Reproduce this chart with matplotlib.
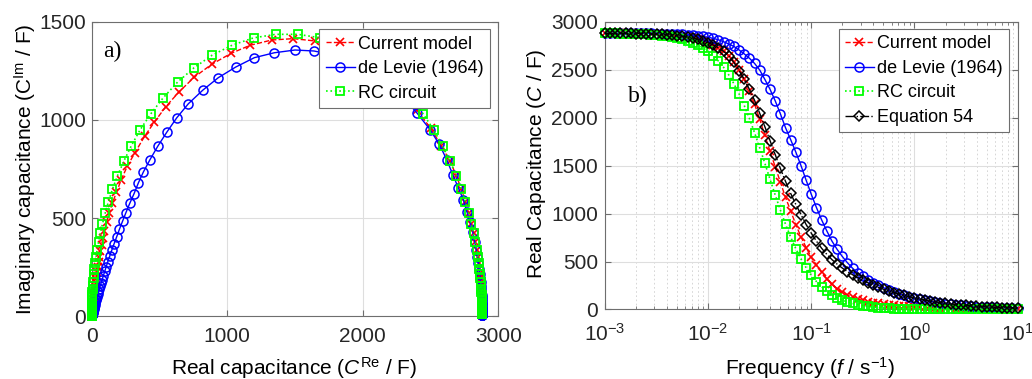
import matplotlib

matplotlib.use("Agg")
import matplotlib.pyplot as plt
from matplotlib.ticker import LogLocator, NullFormatter

plt.rcParams["font.family"] = ["Liberation Sans", "DejaVu Sans"]
plt.rcParams["mathtext.fontset"] = "custom"
plt.rcParams["mathtext.rm"] = "Liberation Sans"
plt.rcParams["mathtext.it"] = "Liberation Sans:italic"

# frequency grid, 20 points per decade from 1e-4 to 1e2 (s^-1)
freq = [
    1.000e-4, 1.122e-4, 1.259e-4, 1.413e-4, 1.585e-4, 1.778e-4, 1.995e-4, 2.239e-4, 2.512e-4, 2.818e-4,
    3.162e-4, 3.548e-4, 3.981e-4, 4.467e-4, 5.012e-4, 5.623e-4, 6.310e-4, 7.079e-4, 7.943e-4, 8.913e-4,
    1.000e-3, 1.122e-3, 1.259e-3, 1.413e-3, 1.585e-3, 1.778e-3, 1.995e-3, 2.239e-3, 2.512e-3, 2.818e-3,
    3.162e-3, 3.548e-3, 3.981e-3, 4.467e-3, 5.012e-3, 5.623e-3, 6.310e-3, 7.079e-3, 7.943e-3, 8.913e-3,
    1.000e-2, 1.122e-2, 1.259e-2, 1.413e-2, 1.585e-2, 1.778e-2, 1.995e-2, 2.239e-2, 2.512e-2, 2.818e-2,
    3.162e-2, 3.548e-2, 3.981e-2, 4.467e-2, 5.012e-2, 5.623e-2, 6.310e-2, 7.079e-2, 7.943e-2, 8.913e-2,
    1.000e-1, 1.122e-1, 1.259e-1, 1.413e-1, 1.585e-1, 1.778e-1, 1.995e-1, 2.239e-1, 2.512e-1, 2.818e-1,
    3.162e-1, 3.548e-1, 3.981e-1, 4.467e-1, 5.012e-1, 5.623e-1, 6.310e-1, 7.079e-1, 7.943e-1, 8.913e-1,
    1.000, 1.122, 1.259, 1.413, 1.585, 1.778, 1.995, 2.239, 2.512, 2.818,
    3.162, 3.548, 3.981, 4.467, 5.012, 5.623, 6.310, 7.079, 7.943, 8.913,
    1.000e1, 1.122e1, 1.259e1, 1.413e1, 1.585e1, 1.778e1, 1.995e1, 2.239e1, 2.512e1, 2.818e1,
    3.162e1, 3.548e1, 3.981e1, 4.467e1, 5.012e1, 5.623e1, 6.310e1, 7.079e1, 7.943e1, 8.913e1,
    1.000e2,
]
# the frequency panel shows 1e-3 .. 1e1
IN_RANGE = slice(20, 101)

# current model (F)
model_re = [
    2880, 2880, 2880, 2880, 2880, 2880, 2880, 2880, 2880, 2880,
    2880, 2880, 2880, 2880, 2879, 2879, 2879, 2879, 2879, 2879,
    2879, 2879, 2878, 2878, 2877, 2877, 2876, 2875, 2874, 2872,
    2870, 2867, 2864, 2860, 2855, 2848, 2840, 2830, 2817, 2801,
    2781, 2757, 2727, 2690, 2644, 2580, 2500, 2400, 2280, 2140,
    1985, 1815, 1648, 1488, 1328, 1168, 1028, 885, 757, 645,
    545, 462, 390, 318, 262, 218, 182, 152, 128, 109,
    94, 82, 72, 64, 57, 51, 46, 41, 37, 33,
    30, 27, 24, 22, 20, 18, 16, 14, 13, 12,
    11, 10, 9, 8, 7, 6, 6, 5, 5, 4,
    4, 3.6, 3.2, 2.9, 2.6, 2.4, 2.1, 1.9, 1.7, 1.5,
    1.4, 1.2, 1.1, 1.0, 0.9, 0.8, 0.7, 0.6, 0.55, 0.5,
    0.45,
]
model_im = [
    5, 6, 7, 8, 8.5, 9.5, 11, 12, 13.5, 15,
    17, 19, 21.5, 24, 27, 30, 34, 38, 43, 48,
    54, 61, 68, 77, 86, 96, 108, 121, 136, 152,
    171, 192, 215, 241, 269, 302, 338, 377, 421, 470,
    524, 583, 647, 716, 789, 868, 958, 1050, 1140, 1225,
    1295, 1355, 1403, 1415, 1408, 1381, 1340, 1284, 1219, 1144,
    1067, 989, 917, 832, 764, 696, 631, 575, 524, 478,
    436, 397, 362, 330, 300, 273, 248, 226, 206, 187,
    170, 155, 141, 128, 117, 106, 97, 88, 80, 73,
    66, 60, 55, 50, 45, 41, 37, 34, 31, 28,
    26, 23.7, 21.5, 19.6, 17.8, 16.2, 14.8, 13.4, 12.2, 11.1,
    10.1, 9.2, 8.4, 7.6, 6.9, 6.3, 5.7, 5.2, 4.8, 4.3,
    3.9,
]

# de Levie (1964)
levie_re = [
    2880, 2880, 2880, 2880, 2880, 2880, 2880, 2880, 2880, 2880,
    2880, 2880, 2880, 2880, 2880, 2880, 2880, 2880, 2880, 2880,
    2880, 2880, 2880, 2880, 2879, 2879, 2879, 2878, 2877, 2877,
    2876, 2875, 2874, 2872, 2870, 2867, 2864, 2859, 2853, 2846,
    2837, 2826, 2811, 2791, 2767, 2742, 2705, 2664, 2619, 2565,
    2496, 2398, 2295, 2175, 2040, 1895, 1770, 1640, 1500, 1347,
    1200, 1062, 934, 819, 713, 627, 553, 487, 430, 381,
    344, 312, 280, 252, 227, 204, 184, 165, 148, 133,
    119, 107, 96, 86, 77, 69, 61, 55, 49, 43,
    38, 34, 30, 27, 24, 21, 19, 17, 15, 13,
    12, 10.6, 9.3, 8.2, 7.2, 6.3, 5.6, 4.9, 4.3, 3.8,
    3.3, 2.9, 2.6, 2.3, 2.0, 1.8, 1.6, 1.4, 1.2, 1.1,
    0.9,
]
levie_im = [
    3.4, 3.8, 4.3, 4.8, 5.4, 6, 6.8, 7.6, 8.5, 9.5,
    10.7, 12, 13.5, 15, 17, 19, 21.5, 24, 27, 30,
    34, 38, 43, 48, 54, 61, 68, 77, 86, 96,
    108, 121, 136, 152, 171, 192, 215, 241, 269, 302,
    338, 377, 430, 482, 533, 593, 653, 721, 798, 875,
    951, 1037, 1118, 1190, 1250, 1300, 1333, 1352, 1357, 1343,
    1318, 1270, 1216, 1152, 1083, 1011, 937, 866, 798, 735,
    679, 624, 574, 527, 483, 442, 404, 369, 336, 306,
    278, 252, 228, 206, 186, 168, 151, 136, 122, 110,
    99, 89, 80, 72, 64, 58, 52, 46, 41, 37,
    33, 29.4, 26.1, 23.3, 20.7, 18.4, 16.4, 14.6, 13.0, 11.6,
    10.3, 9.2, 8.2, 7.3, 6.5, 5.8, 5.1, 4.6, 4.1, 3.6,
    3.2,
]

# RC circuit
rc_re = [
    2880, 2880, 2880, 2880, 2880, 2880, 2880, 2880, 2880, 2880,
    2879, 2879, 2879, 2879, 2879, 2879, 2878, 2878, 2878, 2878,
    2878, 2877, 2877, 2876, 2875, 2874, 2872, 2870, 2867, 2864,
    2860, 2855, 2848, 2840, 2830, 2817, 2801, 2781, 2757, 2727,
    2690, 2644, 2589, 2524, 2445, 2353, 2247, 2126, 1991, 1843,
    1686, 1523, 1357, 1194, 1037, 889, 754, 633, 527, 435,
    356, 291, 236, 190, 153, 123, 99, 79, 63, 50,
    40, 32, 25, 20, 16, 13, 10, 8, 6, 5,
    4, 3, 2.6, 2, 1.6, 1.3, 1, 0.8, 0.6, 0.5,
    0.4, 0.3, 0.3, 0.2, 0.2, 0.1, 0.1, 0.1, 0.1, 0.1,
    0.1, 0, 0, 0, 0, 0, 0, 0, 0, 0,
    0, 0, 0, 0, 0, 0, 0, 0, 0, 0,
    0,
]
rc_im = [
    8, 9, 10, 11, 12, 14, 15, 17, 19, 22,
    24, 27, 30, 34, 38, 43, 48, 54, 61, 68,
    77, 86, 96, 108, 121, 136, 152, 171, 192, 215,
    241, 269, 302, 338, 377, 421, 470, 524, 583, 647,
    716, 789, 867, 949, 1031, 1113, 1193, 1266, 1331, 1382,
    1419, 1437, 1437, 1419, 1382, 1331, 1266, 1193, 1113, 1031,
    949, 867, 789, 716, 647, 583, 524, 470, 421, 377,
    338, 302, 269, 241, 215, 192, 171, 152, 136, 121,
    108, 96, 86, 77, 68, 61, 54, 48, 43, 38,
    34, 30, 27, 24, 22, 19, 17, 15, 14, 12,
    11, 9.6, 8.6, 7.6, 6.8, 6.1, 5.4, 4.8, 4.3, 3.8,
    3.4, 3.0, 2.7, 2.4, 2.2, 1.9, 1.7, 1.5, 1.4, 1.2,
    1.1,
]

# Equation 54 (real part only, 1e-3 .. 1e1)
eq54_re = [
    2879, 2879, 2878, 2878, 2877, 2877, 2876, 2875, 2874, 2872,
    2870, 2867, 2864, 2860, 2855, 2848, 2840, 2830, 2817, 2801,
    2781, 2757, 2727, 2690, 2644, 2575, 2490, 2400, 2295, 2180,
    2045, 1905, 1760, 1615, 1470, 1335, 1210, 1095, 990, 885,
    795, 712, 638, 575, 520, 473, 432, 395, 362, 332,
    303, 277, 253, 231, 211, 193, 176, 160, 146, 133,
    121, 110, 99, 89, 80, 72, 65, 58, 52, 47,
    42, 38, 34, 30, 27, 24, 22, 20, 18, 16,
    14,
]

RED = "#ff0000"
BLUE = "#0000ff"
GREEN = "#00ff00"
BLACK = "#000000"
EDGE = "#6e6e6e"

model_style = dict(color=RED, ls="--", marker="x", ms=5.5, mew=1.2, lw=1.0, label="Current model")
levie_style = dict(color=BLUE, ls="-", marker="o", ms=6.5, mfc="none", mew=1.1, lw=1.0, label="de Levie (1964)")
rc_style = dict(color=GREEN, ls=":", marker="s", ms=5.5, mfc="none", mew=1.3, lw=1.2, label="RC circuit")
eq54_style = dict(color=BLACK, ls="-.", marker="D", ms=5.0, mfc="none", mew=1.1, lw=1.0, label="Equation 54")

legend_opts = dict(loc="upper right", borderaxespad=0, fontsize=13, handlelength=1.6,
                   handletextpad=0.2, labelspacing=0.42, borderpad=0.35, fancybox=False,
                   framealpha=1, edgecolor=EDGE)


def style_axes(ax):
    for spine in ax.spines.values():
        spine.set_color(EDGE)
        spine.set_linewidth(0.8)
    ax.tick_params(which="both", direction="in", top=True, right=True, color=EDGE,
                   labelcolor="#262626", labelsize=15)
    ax.tick_params(which="major", length=4)
    ax.tick_params(which="minor", length=2.5)
    ax.grid(True, which="major", color="#dedede", lw=0.8)
    ax.set_axisbelow(True)


fig = plt.figure(figsize=(10.32, 3.79), dpi=100)
ax_a = fig.add_axes([0.0889, 0.1662, 0.394, 0.7758])
ax_b = fig.add_axes([0.5862, 0.1834, 0.3999, 0.7594])

# a) complex-plane plot
style_axes(ax_a)
ax_a.plot(model_re, model_im, clip_on=False, zorder=3, **model_style)
ax_a.plot(levie_re, levie_im, clip_on=False, zorder=3, **levie_style)
ax_a.plot(rc_re, rc_im, clip_on=False, zorder=3, **rc_style)
ax_a.set_xlim(0, 3000)
ax_a.set_ylim(0, 1500)
ax_a.set_xticks([0, 1000, 2000, 3000])
ax_a.set_yticks([0, 500, 1000, 1500])
ax_a.tick_params(axis="x", pad=8)
ax_a.tick_params(axis="y", pad=4)
ax_a.set_xlabel(r"Real capacitance ($C^{\mathrm{Re}}$ / F)", fontsize=15, va="center")
ax_a.set_ylabel(r"Imaginary capacitance ($\mathrm{C}^{\mathrm{Im}}$ / F)", fontsize=15, va="center")
ax_a.xaxis.set_label_coords(0.499, -0.177)
ax_a.yaxis.set_label_coords(-0.164, 0.5)
ax_a.text(0.028, 0.899, "a)", transform=ax_a.transAxes, fontsize=17,
          family="Liberation Serif", ha="left", va="center")
leg_a = ax_a.legend(bbox_to_anchor=(0.9796, 0.975), **legend_opts)
leg_a.get_frame().set_linewidth(0.8)
leg_a.set_zorder(10)

# b) real capacitance against frequency
style_axes(ax_b)
ax_b.set_xscale("log")
f_in = freq[IN_RANGE]
ax_b.plot(f_in, model_re[IN_RANGE], clip_on=False, zorder=3, **model_style)
ax_b.plot(f_in, levie_re[IN_RANGE], clip_on=False, zorder=3, **levie_style)
ax_b.plot(f_in, rc_re[IN_RANGE], clip_on=False, zorder=3, **rc_style)
ax_b.plot(f_in, eq54_re, clip_on=False, zorder=3, **eq54_style)
ax_b.set_xlim(1e-3, 10)
ax_b.set_ylim(0, 3000)
ax_b.set_yticks([0, 500, 1000, 1500, 2000, 2500, 3000])
ax_b.xaxis.set_major_locator(LogLocator(base=10, numticks=10))
ax_b.xaxis.set_minor_locator(LogLocator(base=10, subs=range(2, 10), numticks=20))
ax_b.xaxis.set_minor_formatter(NullFormatter())
ax_b.grid(True, which="minor", axis="x", color="#d0d0d0", lw=0.6, ls=(0, (2, 3)))
ax_b.tick_params(axis="x", pad=10)
ax_b.tick_params(axis="y", pad=5)
ax_b.set_xlabel(r"Frequency ($f$ / s$^{-1}$)", fontsize=15, va="center")
ax_b.set_ylabel(r"Real Capacitance ($C$ / F)", fontsize=15, va="center")
ax_b.xaxis.set_label_coords(0.498, -0.203)
ax_b.yaxis.set_label_coords(-0.165, 0.506)
ax_b.text(0.055, 0.74, "b)", transform=ax_b.transAxes, fontsize=17,
          family="Liberation Serif", ha="left", va="center")
leg_b = ax_b.legend(bbox_to_anchor=(0.9797, 0.9747), **legend_opts)
leg_b.get_frame().set_linewidth(0.8)
leg_b.set_zorder(10)

fig.savefig("out.png", dpi=100)
plt.close(fig)
